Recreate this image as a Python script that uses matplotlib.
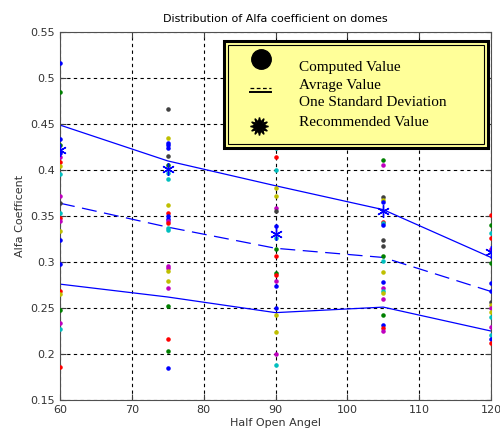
import matplotlib.pyplot as plt
from matplotlib.patches import Rectangle
from matplotlib.lines import Line2D

angles = [60, 75, 90, 105, 120]

# computed values per angle, with matlab-style colour letters
vals_60 = [0.517, 0.485, 0.434, 0.427, 0.419, 0.414, 0.409, 0.404, 0.396, 0.372,
           0.364, 0.353, 0.348, 0.345, 0.334, 0.324, 0.298, 0.268, 0.265, 0.248,
           0.234, 0.227, 0.186]
cols_60 = ['b', 'g', 'b', 'g', 'b', 'm', 'r', 'y', 'c', 'm',
           'k', 'c', 'r', 'm', 'y', 'b', 'b', 'r', 'y', 'g',
           'm', 'c', 'r']
vals_75 = [0.467, 0.435, 0.430, 0.427, 0.424, 0.415, 0.406, 0.397, 0.390, 0.362,
           0.353, 0.350, 0.347, 0.345, 0.342, 0.337, 0.335, 0.296, 0.294, 0.290,
           0.279, 0.272, 0.252, 0.216, 0.203, 0.185]
cols_75 = ['k', 'y', 'b', 'b', 'b', 'k', 'g', 'c', 'c', 'y',
           'r', 'b', 'b', 'm', 'r', 'c', 'c', 'm', 'm', 'y',
           'y', 'm', 'g', 'r', 'g', 'b']
vals_90 = [0.424, 0.414, 0.400, 0.381, 0.372, 0.359, 0.355, 0.339, 0.326, 0.314,
           0.307, 0.288, 0.286, 0.279, 0.274, 0.250, 0.242, 0.224, 0.200, 0.188]
cols_90 = ['c', 'r', 'c', 'y', 'y', 'm', 'k', 'b', 'c', 'g',
           'r', 'g', 'r', 'm', 'b', 'b', 'y', 'y', 'm', 'c']
vals_105 = [0.411, 0.406, 0.371, 0.367, 0.365, 0.344, 0.342, 0.340, 0.324, 0.318,
            0.307, 0.301, 0.289, 0.278, 0.272, 0.268, 0.266, 0.260, 0.242, 0.232,
            0.228, 0.225]
cols_105 = ['g', 'm', 'k', 'y', 'b', 'r', 'c', 'b', 'k', 'k',
            'g', 'c', 'y', 'b', 'm', 'c', 'y', 'm', 'g', 'b',
            'r', 'm']
vals_120 = [0.351, 0.340, 0.332, 0.326, 0.314, 0.299, 0.277, 0.269, 0.257, 0.253,
            0.250, 0.246, 0.240, 0.229, 0.221, 0.216, 0.212]
cols_120 = ['r', 'g', 'c', 'r', 'm', 'g', 'b', 'b', 'k', 'y',
            'm', 'y', 'c', 'm', 'c', 'b', 'r']

avg_vals = [0.364, 0.338, 0.315, 0.305, 0.268]
upper_std = [0.449, 0.410, 0.383, 0.357, 0.305]
lower_std = [0.276, 0.262, 0.245, 0.251, 0.225]
recommended = [0.422, 0.401, 0.331, 0.356, 0.311]

legend_labels = ['Computed Value', 'Avrage Value', 'One Standard Deviation',
                 'Recommended Value']

mcol = {'b': '#0000ff', 'g': '#008000', 'r': '#ff0000', 'c': '#00bfbf',
        'm': '#bf00bf', 'y': '#bfbf00', 'k': '#404040'}

fig = plt.figure(figsize=(5, 4.41), dpi=100)
ax = fig.add_axes([0.12, 0.093, 0.862, 0.834])

all_vals = [vals_60, vals_75, vals_90, vals_105, vals_120]
all_cols = [cols_60, cols_75, cols_90, cols_105, cols_120]
for a, vs, cs in zip(angles, all_vals, all_cols):
    for v, c in zip(vs, cs):
        ax.plot(a, v, '.', color=mcol[c], ms=4.5, zorder=3)

ax.plot(angles, upper_std, color='#0000ff', lw=0.9, zorder=2)
ax.plot(angles, lower_std, color='#0000ff', lw=0.9, zorder=2)
ax.plot(angles, avg_vals, color='#0000ff', lw=0.9, dashes=(12, 6), zorder=2)
ax.plot(angles, recommended, ls='none', marker=(6, 2, 0), color='#0000ff',
        ms=9, mew=1.0, zorder=4)

ax.set_xlim(60, 120)
ax.set_ylim(0.15, 0.55)
ax.set_xticks([60, 70, 80, 90, 100, 110, 120])
ax.set_yticks([0.15, 0.2, 0.25, 0.3, 0.35, 0.4, 0.45, 0.5, 0.55])
ax.set_yticklabels(['0.15', '0.2', '0.25', '0.3', '0.35', '0.4', '0.45', '0.5', '0.55'])
ax.grid(True, color='black', ls=(0, (3, 3)), lw=0.8)
ax.tick_params(labelsize=8, direction='in', length=4, color='#404040',
               top=True, right=True, labelcolor='#333333')
for s in ax.spines.values():
    s.set_color('#505050')

ax.set_title('Distribution of Alfa coefficient on domes', fontsize=8, pad=7)
ax.set_xlabel('Half Open Angel', fontsize=8, color='#333333', labelpad=2)
ax.set_ylabel('Alfa Coefficent', fontsize=8, color='#333333', labelpad=4)

# hand-made legend box (figure pixels -> fraction)
W, H = 500.0, 441.0
def fx(px):
    return px / W
def fy(py):
    return 1 - py / H

fig.patches.append(Rectangle((fx(224), fy(148)), fx(488) - fx(224), fy(41) - fy(148),
                             transform=fig.transFigure, facecolor='#ffff99',
                             edgecolor='black', lw=2.2, zorder=10))
fig.patches.append(Rectangle((fx(228), fy(144)), fx(484) - fx(228), fy(45) - fy(144),
                             transform=fig.transFigure, facecolor='none',
                             edgecolor='black', lw=0.8, zorder=11))

serif = ['Liberation Serif', 'DejaVu Serif']
text_y = [67, 85, 103, 122]
for lab, ty in zip(legend_labels, text_y):
    fig.text(fx(299), fy(ty), lab, fontsize=11, family=serif, va='center',
             ha='left', zorder=12)

fig.lines.append(Line2D([fx(261)], [fy(59)], marker='o', ms=14, color='black',
                        transform=fig.transFigure, zorder=12))
fig.lines.append(Line2D([fx(250), fx(271)], [fy(88), fy(88)], color='black', lw=0.9,
                        dashes=(3, 2), transform=fig.transFigure, zorder=12))
fig.lines.append(Line2D([fx(250), fx(271)], [fy(92), fy(92)], color='black', lw=1.4,
                        transform=fig.transFigure, zorder=12))
fig.lines.append(Line2D([fx(259)], [fy(126)], marker=(12, 1, 0), ms=13, color='black',
                        transform=fig.transFigure, zorder=12))

fig.savefig('out.png', dpi=100, facecolor='white')
